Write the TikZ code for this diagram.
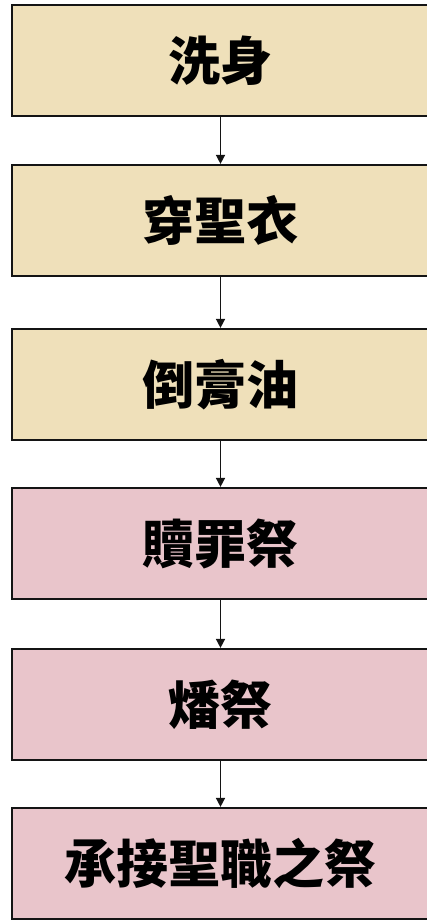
\documentclass[tikz,border=0pt]{standalone}
\usepackage{fontspec}
\newfontfamily\cjk{Noto Sans CJK TC}
\usetikzlibrary{arrows.meta}
\definecolor{prepcol}{RGB}{239, 224, 186}
\definecolor{ritecol}{RGB}{233, 197, 203}
\definecolor{linecol}{RGB}{20, 20, 20}
\tikzset{
  stepbox/.style = {draw=linecol, line width=2.2pt, minimum width=417pt,
                    minimum height=111pt, inner sep=0pt,
                    font=\cjk\bfseries\fontsize{52}{60}\selectfont},
  prep/.style    = {stepbox, fill=prepcol},
  rite/.style    = {stepbox, fill=ritecol},
  flow/.style    = {-{Triangle[length=9pt, width=9pt]}, draw=linecol,
                    line width=1.5pt},
}
\begin{document}
\begin{tikzpicture}[x=1pt, y=-1pt]
  \useasboundingbox (0,0) rectangle (427,921);

  %% ---------------- steps ----------------
  \foreach \n/\y/\sty/\txt in {
      wash/60.5/prep/{洗身},
      robe/220.5/prep/{穿聖衣},
      oil/384.5/prep/{倒膏油},
      sin/543.5/rite/{贖罪祭},
      burnt/704.5/rite/{燔祭},
      ordain/863.5/rite/{承接聖職之祭}} {
    \node[\sty] (\n) at (220.5,\y) {\txt};
  }

  %% ---------------- order ----------------
  \foreach \a/\b in {wash/robe, robe/oil, oil/sin, sin/burnt, burnt/ordain}
    \draw[flow] (\a.south) -- (\b.north);

\end{tikzpicture}
\end{document}
